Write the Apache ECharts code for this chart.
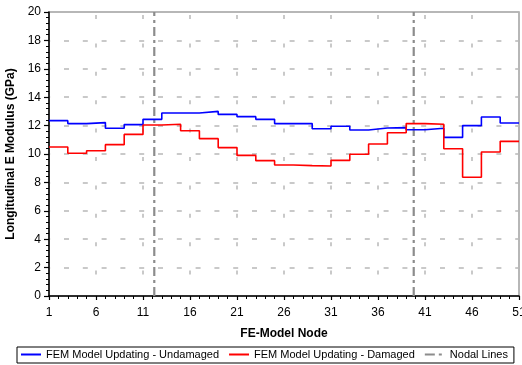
<!DOCTYPE html>
<html><head><meta charset="utf-8">
<script src="https://cdn.jsdelivr.net/npm/echarts@6/dist/echarts.min.js"></script>
<style>html,body{margin:0;padding:0;background:#fff}#c{width:522px;height:365px}</style>
</head><body><div id="c"></div>
<script>
// Step segment start nodes (each segment spans 2 nodes), final end node 51
var nodes = [1,3,5,7,9,11,13,15,17,19,21,23,25,27,29,31,33,35,37,39,41,43,45,47,49];
var endNode = 51;
var undamaged = [12.35,12.14,12.21,11.81,12.07,12.44,12.89,12.89,13.0,12.79,12.63,12.44,12.14,12.14,11.78,11.95,11.69,11.83,11.86,11.71,11.81,11.17,12.0,12.61,12.18];
var damaged = [10.49,10.05,10.23,10.66,11.38,12.04,12.09,11.64,11.08,10.45,9.9,9.53,9.23,9.18,9.15,9.55,9.98,10.7,11.5,12.14,12.09,10.37,8.36,10.14,10.89];
var nodalLines = [12.2, 39.8];
var yRange = [0, 20];
var seriesNames = ['FEM Model Updating - Undamaged','FEM Model Updating - Damaged','Nodal Lines'];

function stepData(vals){
  var d = nodes.map(function(n,i){return [n, vals[i]];});
  d.push([endNode, vals[vals.length-1]]);
  return d;
}
var nodalData = [];
nodalLines.forEach(function(x,i){
  if(i>0) nodalData.push(['-', '-']);
  nodalData.push([x, yRange[0]]);
  nodalData.push([x, yRange[1]]);
});

var solidIcon = 'path://M0,0h20v2h-20z';
var dashDotIcon = 'path://M0,0h10v2h-10z M14,0h3v2h-3z M20,0h0.01v2h-0.01z';
var font = 'Liberation Sans, Arial, sans-serif';
var chart = echarts.init(document.getElementById('c'), null, {renderer:'canvas'});
chart.setOption({
  animation:false,
  backgroundColor:'#fff',
  textStyle:{fontFamily:font},
  grid:{left:49,right:3,top:12,bottom:69,outerBoundsMode:'none',containLabel:false,show:true,borderColor:'#a0a0a0',borderWidth:1.5,backgroundColor:'transparent'},
  xAxis:{
    type:'value',min:1,max:51,interval:5,
    name:'FE-Model Node',nameLocation:'middle',nameGap:32,
    nameTextStyle:{fontFamily:font,fontWeight:'bold',fontSize:12,color:'#000'},
    axisLine:{lineStyle:{color:'#000',width:1.5}},
    axisTick:{show:true,length:4,lineStyle:{color:'#000',width:1.2}},
    minorTick:{show:true,splitNumber:5,length:3,lineStyle:{color:'#000',width:1}},
    axisLabel:{fontFamily:font,fontSize:12,color:'#000',margin:11},
    splitLine:{show:true,lineStyle:{color:'#b8b8b8',width:1.5,type:[4,24.4],dashOffset:-3}}
  },
  yAxis:{
    type:'value',min:0,max:20,interval:2,
    name:'Longitudinal E Modulus (GPa)',nameLocation:'middle',nameGap:26,
    nameTextStyle:{fontFamily:font,fontWeight:'bold',fontSize:12,color:'#000'},
    axisLine:{show:true,lineStyle:{color:'#000',width:1.5}},
    axisTick:{show:true,length:5,lineStyle:{color:'#000',width:1.2}},
    minorTick:{show:true,splitNumber:5,length:3,lineStyle:{color:'#000',width:1}},
    axisLabel:{fontFamily:font,fontSize:12,color:'#000',margin:8},
    splitLine:{show:true,lineStyle:{color:'#b8b8b8',width:1.5,type:[5,13.8],dashOffset:-15}}
  },
  legend:{
    left:17,top:347,width:496,
    padding:[2,6,3,4],
    borderColor:'#000',borderWidth:1,
    itemWidth:20,itemHeight:10,itemGap:10,
    textStyle:{fontFamily:font,fontSize:11,color:'#000'},
    data:[
      {name:seriesNames[0],icon:solidIcon,itemStyle:{color:'#0000ff'}},
      {name:seriesNames[1],icon:solidIcon,itemStyle:{color:'#ff0000'}},
      {name:seriesNames[2],icon:dashDotIcon,itemStyle:{color:'#8c8c8c'}}
    ]
  },
  series:[
    {name:seriesNames[0],type:'line',step:'end',symbol:'none',data:stepData(undamaged),
     lineStyle:{color:'#0000ff',width:1.6},itemStyle:{color:'#0000ff'},z:3},
    {name:seriesNames[1],type:'line',step:'end',symbol:'none',data:stepData(damaged),
     lineStyle:{color:'#ff0000',width:1.6},itemStyle:{color:'#ff0000'},z:3},
    {name:seriesNames[2],type:'line',symbol:'none',data:nodalData,connectNulls:false,
     lineStyle:{color:'#8c8c8c',width:2.2,type:[9,4,3,4]},itemStyle:{color:'#8c8c8c'},z:2}
  ]
});
</script></body></html>
